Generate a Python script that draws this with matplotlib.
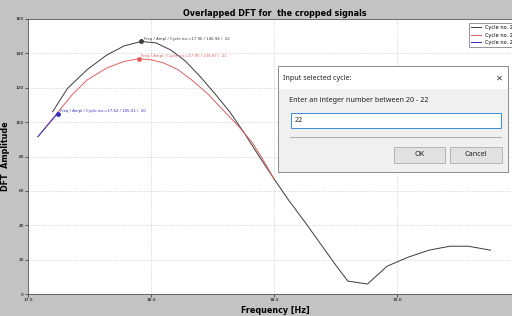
import matplotlib
matplotlib.use("Agg")
import matplotlib.pyplot as plt
from matplotlib.patches import Rectangle

# DFT amplitude per cycle
freq_22 = [17.60, 17.66, 17.74, 17.82, 17.89, 17.96, 18.02, 18.08, 18.14, 18.20,
           18.26, 18.32, 18.38, 18.44, 18.50, 18.56, 18.63, 18.69, 18.75, 18.80,
           18.88, 18.96, 19.045, 19.13, 19.215, 19.29, 19.38]
amp_22 = [106.0, 119.5, 130.5, 139.0, 144.3, 146.94, 146.1, 142.0, 135.5, 126.5,
          116.5, 106.0, 93.5, 80.0, 67.0, 54.5, 41.0, 29.0, 17.0, 7.5,
          5.8, 16.2, 21.4, 25.5, 27.8, 27.8, 25.5]

freq_21 = [17.54, 17.62, 17.68, 17.74, 17.82, 17.89, 17.95, 18.00, 18.05, 18.11,
           18.17, 18.23, 18.29, 18.35, 18.41, 18.46, 18.50]
amp_21 = [91.5, 105.5, 116.0, 124.5, 131.5, 135.3, 136.87, 136.3, 134.5, 130.5,
          124.0, 116.5, 107.5, 98.5, 88.5, 77.0, 67.0]

freq_20 = [17.54, 17.62]
amp_20 = [91.5, 105.01]

peaks = [(17.96, 146.94, 22), (17.95, 136.87, 21), (17.62, 105.01, 20)]
colors = ["#3a3a3a", "#e06060", "#3030c0"]

W, H = 512, 316
fig = plt.figure(figsize=(W / 100, H / 100), dpi=100)
fig.patch.set_facecolor("#c3c3c3")

# axes runs a little past the right border like in the screenshot
ax = fig.add_axes([28 / W, 22 / H, 494 / W, 275 / H])
ax.set_facecolor("white")

ax.plot(freq_22, amp_22, color=colors[0], lw=0.7, label="Cycle no. 22")
ax.plot(freq_21, amp_21, color=colors[1], lw=0.7, label="Cycle no. 21")
ax.plot(freq_20, amp_20, color=colors[2], lw=0.7, label="Cycle no. 20")

for (f, a, c), col in zip(peaks, colors):
    ax.plot(f, a, "o", color=col, ms=2.5)
    ax.text(f + 0.01, a + 0.5, f"Freq / Ampl / Cycle no.={f:.2f} / {a:.2f} /  {c}",
            fontsize=2.8, color=col, va="bottom", ha="left")

ax.set_xlim(17.5, 17.5 + 494 / 246)
ax.set_ylim(0, 160)
ax.set_xticks([17.5, 18.0, 18.5, 19.0])
ax.set_yticks(range(0, 161, 20))
ax.tick_params(labelsize=3.2, length=2, width=0.4, pad=1)
ax.grid(True, ls=":", lw=0.5, color="#bbbbbb")
for s in ax.spines.values():
    s.set_linewidth(0.6)
    s.set_color("#555555")

ax.set_title("Overlapped DFT for  the cropped signals", fontsize=5.8,
             fontweight="bold", pad=2)
ax.set_xlabel("Frequency [Hz]", fontsize=5.8, fontweight="bold", labelpad=3)
ax.set_ylabel("DFT  Amplitude", fontsize=5.8, fontweight="bold")
ax.yaxis.set_label_coords(-18 / 494, 0.5)

leg = ax.legend(loc="upper right", fontsize=3.6, frameon=True, fancybox=False,
                handlelength=2, borderaxespad=0.8)
leg.get_frame().set_edgecolor("#444444")
leg.get_frame().set_linewidth(0.5)

# input dialog on top of the plot, in pixel coordinates
ov = fig.add_axes([0, 0, 1, 1])
ov.set_xlim(0, W)
ov.set_ylim(H, 0)
ov.axis("off")
ov.patch.set_alpha(0)

ov.add_patch(Rectangle((278, 66), 230, 106, facecolor="#f0f0f0",
                       edgecolor="#7a7a7a", lw=0.6))
ov.add_patch(Rectangle((278.5, 66.5), 229, 22, facecolor="white", edgecolor="none"))
dfont = dict(family="Noto Sans", fontsize=5.2, color="#222222", va="center")
ov.text(283, 78, "Input selected cycle:", **dfont)
ov.text(499, 78, "\u2715", ha="center", family="DejaVu Sans", fontsize=6,
        color="#333333", va="center")
ov.text(289, 101, "Enter an integer number between 20 - 22", **dfont)
ov.add_patch(Rectangle((291, 113), 210, 15, facecolor="white",
                       edgecolor="#3a8fd9", lw=0.7))
ov.text(295, 120.5, "22", **dfont)
ov.plot([290, 501], [137, 137], color="#a0a0a0", lw=0.6)
for x0, x1, lab in [(394, 445, "OK"), (450, 502, "Cancel")]:
    ov.add_patch(Rectangle((x0, 147), x1 - x0, 16, facecolor="#e1e1e1",
                           edgecolor="#adadad", lw=0.6))
    ov.text((x0 + x1) / 2, 155, lab, ha="center", family="Noto Sans",
            fontsize=5.2, color="#222222", va="center")

fig.savefig("out.png", dpi=100, facecolor=fig.get_facecolor())
